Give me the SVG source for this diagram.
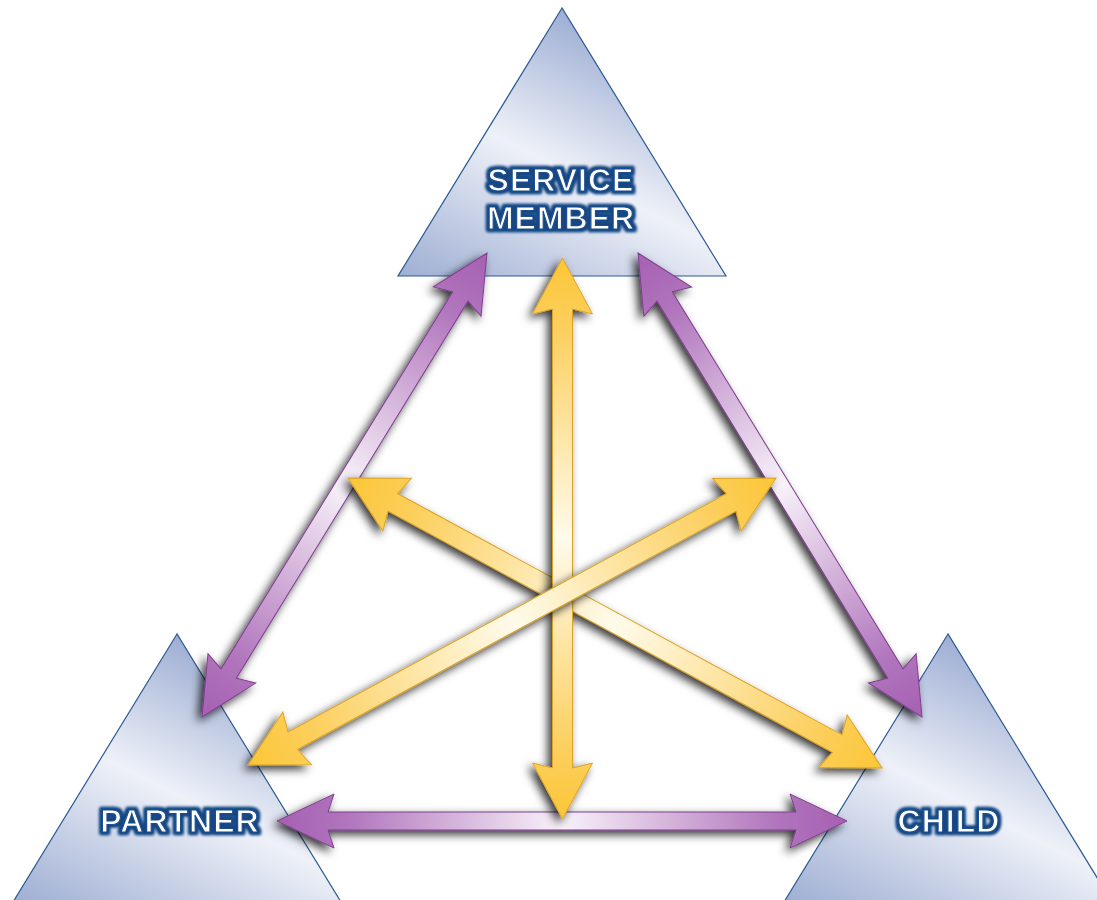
<svg xmlns="http://www.w3.org/2000/svg" width="1097" height="900" viewBox="0 0 1097 900">
  <defs>
    <linearGradient id="triTop" gradientUnits="userSpaceOnUse" x1="398" y1="276" x2="538" y2="-4">
      <stop offset="0" stop-color="#9eaed3"/>
      <stop offset="0.54" stop-color="#eef1f8"/>
      <stop offset="1" stop-color="#9dadd3"/>
    </linearGradient>
    <linearGradient id="triPartner" gradientUnits="userSpaceOnUse" x1="13" y1="902" x2="153" y2="622">
      <stop offset="0" stop-color="#9eaed3"/>
      <stop offset="0.54" stop-color="#eef1f8"/>
      <stop offset="1" stop-color="#9dadd3"/>
    </linearGradient>
    <linearGradient id="triChild" gradientUnits="userSpaceOnUse" x1="784" y1="902" x2="924" y2="622">
      <stop offset="0" stop-color="#9eaed3"/>
      <stop offset="0.54" stop-color="#eef1f8"/>
      <stop offset="1" stop-color="#9dadd3"/>
    </linearGradient>
    <linearGradient id="purpleGrad" x1="0" y1="0" x2="1" y2="0">
      <stop offset="0" stop-color="#a660b2"/>
      <stop offset="0.12" stop-color="#b074bc"/>
      <stop offset="0.5" stop-color="#f8f2f9"/>
      <stop offset="0.88" stop-color="#b074bc"/>
      <stop offset="1" stop-color="#a660b2"/>
    </linearGradient>
    <linearGradient id="yellowGrad" x1="0" y1="0" x2="1" y2="0">
      <stop offset="0" stop-color="#fbc637"/>
      <stop offset="0.12" stop-color="#fccf5c"/>
      <stop offset="0.5" stop-color="#fffbeb"/>
      <stop offset="0.88" stop-color="#fccf5c"/>
      <stop offset="1" stop-color="#fbc637"/>
    </linearGradient>
    <filter id="shadow" filterUnits="userSpaceOnUse" x="0" y="0" width="1097" height="900">
      <feDropShadow dx="-4" dy="4" stdDeviation="5" flood-color="#000" flood-opacity="0.8"/>
    </filter>
    <filter id="halo" x="-10%" y="-30%" width="120%" height="160%">
      <feMorphology in="SourceAlpha" operator="dilate" radius="2" result="d"/>
      <feGaussianBlur in="d" stdDeviation="1.8" result="b"/>
      <feFlood flood-color="#154683" result="c"/>
      <feComposite in="c" in2="b" operator="in" result="h"/>
      <feMerge>
        <feMergeNode in="h"/>
        <feMergeNode in="h"/>
        <feMergeNode in="SourceGraphic"/>
      </feMerge>
    </filter>
  </defs>
  <style>
    .tri { stroke: #2c5a94; stroke-width: 1.2; stroke-linejoin: miter; }
    .label { font-family: "Liberation Sans", Arial, sans-serif; font-weight: bold; font-size: 32px; letter-spacing: 1px; fill: #ffffff; stroke: #1d4f8e; stroke-width: 1.2; text-anchor: middle; filter: url(#halo); }
    .purple { fill: url(#purpleGrad); stroke: #7f3f8f; stroke-width: 1; stroke-linejoin: miter; }
    .yellow { fill: url(#yellowGrad); stroke: #dca328; stroke-width: 1; stroke-linejoin: miter; }
    .arrow { filter: url(#shadow); }
  </style>
  <rect width="1097" height="900" fill="#ffffff"/>

  <g id="service-member">
    <polygon class="tri" fill="url(#triTop)" points="562,8 398,276 726,276"/>
    <text class="label" x="561" y="191">SERVICE</text>
    <text class="label" x="561" y="229">MEMBER</text>
  </g>
  <g id="partner">
    <polygon class="tri" fill="url(#triPartner)" points="177,634 13,902 341,902"/>
    <text class="label" x="180" y="832">PARTNER</text>
  </g>
  <g id="child">
    <polygon class="tri" fill="url(#triChild)" points="948,634 784,902 1112,902"/>
    <text class="label" x="949" y="832">CHILD</text>
  </g>

  <g id="connectors">
    <g class="arrow">
      <polygon class="purple" transform="translate(487,253) rotate(121.56)" points="0,0 57,-28 51,-9 493.5,-9 487.5,-28 544.5,0 487.5,28 493.5,9 51,9 57,28"/>
    </g>
    <g class="arrow">
      <polygon class="purple" transform="translate(638,253) rotate(58.53)" points="0,0 57,-28 51,-9 493,-9 487,-28 544,0 487,28 493,9 51,9 57,28"/>
    </g>
    <g class="arrow">
      <polygon class="purple" transform="translate(277,821)" points="0,0 57,-27 51,-9 519,-9 513,-27 570,0 513,27 519,9 51,9 57,27"/>
    </g>
    <g class="arrow">
      <polygon class="yellow" transform="translate(348,478) rotate(28.5)" points="0,0 56,-30 51,-10 556.7,-10 551.7,-30 607.7,0 551.7,30 556.7,10 51,10 56,30"/>
    </g>
    <g class="arrow">
      <polygon class="yellow" transform="translate(562.5,258) rotate(90)" points="0,0 56,-30 51,-10 510,-10 505,-30 561,0 505,30 510,10 51,10 56,30"/>
    </g>
    <g class="arrow">
      <polygon class="yellow" transform="translate(776,478) rotate(151.47)" points="0,0 56,-30 51,-10 550,-10 545,-30 601,0 545,30 550,10 51,10 56,30"/>
    </g>
  </g>
</svg>
